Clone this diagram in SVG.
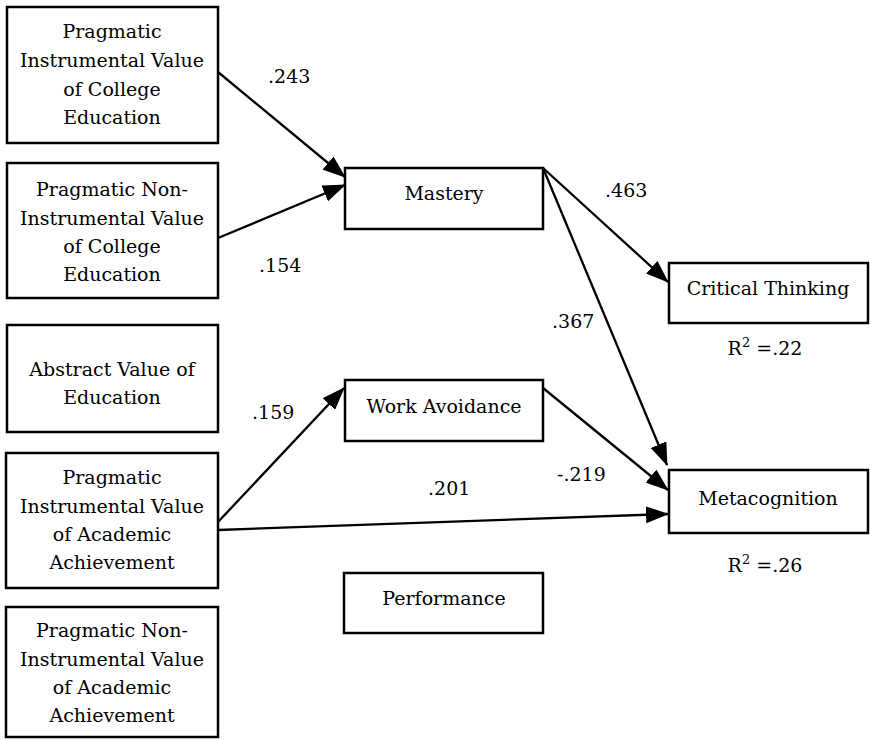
<svg xmlns="http://www.w3.org/2000/svg" width="870" height="740" viewBox="0 0 870 740">
<style>
.box{fill:#fff;stroke:#000;stroke-width:2.5}
.t{font-family:'DejaVu Serif',serif;font-size:19px;fill:#000}
.c{text-anchor:middle}
.edge{stroke:#000;stroke-width:2.3;fill:none;marker-end:url(#ah)}
</style>
<defs>
<marker id="ah" markerUnits="userSpaceOnUse" markerWidth="23" markerHeight="17" refX="22" refY="8.5" orient="auto">
<path d="M0,0 L23,8.5 L0,17 Z" fill="#000"/>
</marker>
</defs>
<rect width="870" height="740" fill="#fff"/>
<g class="t">
<g id="connectors">
<line class="edge" x1="218" y1="72" x2="345" y2="177"/>
<line class="edge" x1="218" y1="238" x2="345" y2="185"/>
<line class="edge" x1="543" y1="168" x2="668" y2="282"/>
<line class="edge" x1="543" y1="168" x2="667" y2="465"/>
<line class="edge" x1="543" y1="388" x2="668" y2="490"/>
<line class="edge" x1="218" y1="522" x2="344" y2="388"/>
<line class="edge" x1="218" y1="530" x2="668" y2="514"/>
<text x="268" y="83">.243</text>
<text x="259" y="272">.154</text>
<text x="605" y="197">.463</text>
<text x="552" y="328">.367</text>
<text x="252" y="419">.159</text>
<text x="428" y="495">.201</text>
<text x="557" y="481">-.219</text>
</g>
<g id="n1">
<rect class="box" x="7" y="7" width="211" height="136"/>
<text class="c" x="112" y="38">Pragmatic</text>
<text class="c" x="112" y="67">Instrumental Value</text>
<text class="c" x="112" y="96">of College</text>
<text class="c" x="112" y="124">Education</text>
</g>
<g id="n2">
<rect class="box" x="7" y="163" width="211" height="135"/>
<text class="c" x="112" y="196">Pragmatic Non-</text>
<text class="c" x="112" y="225">Instrumental Value</text>
<text class="c" x="112" y="253">of College</text>
<text class="c" x="112" y="281">Education</text>
</g>
<g id="n3">
<rect class="box" x="7" y="325" width="211" height="107"/>
<text class="c" x="112" y="376">Abstract Value of</text>
<text class="c" x="112" y="404">Education</text>
</g>
<g id="n4">
<rect class="box" x="6" y="453" width="212" height="135"/>
<text class="c" x="112" y="484">Pragmatic</text>
<text class="c" x="112" y="513">Instrumental Value</text>
<text class="c" x="112" y="541">of Academic</text>
<text class="c" x="112" y="569">Achievement</text>
</g>
<g id="n5">
<rect class="box" x="6" y="607" width="212" height="130"/>
<text class="c" x="112" y="637">Pragmatic Non-</text>
<text class="c" x="112" y="666">Instrumental Value</text>
<text class="c" x="112" y="694">of Academic</text>
<text class="c" x="112" y="722">Achievement</text>
</g>
<g id="mastery">
<rect class="box" x="345" y="168" width="198" height="61"/>
<text class="c" x="444" y="200">Mastery</text>
</g>
<g id="workavoidance">
<rect class="box" x="345" y="380" width="198" height="61"/>
<text class="c" x="444" y="413">Work Avoidance</text>
</g>
<g id="performance">
<rect class="box" x="344" y="573" width="199" height="60"/>
<text class="c" x="444" y="605">Performance</text>
</g>
<g id="critical">
<rect class="box" x="669" y="263" width="199" height="60"/>
<text class="c" x="768" y="295">Critical Thinking</text>
<text class="c" x="765" y="355">R<tspan font-size="13" dy="-8">2</tspan><tspan dy="8"> =.22</tspan></text>
</g>
<g id="metacognition">
<rect class="box" x="669" y="470" width="199" height="63"/>
<text class="c" x="768" y="505">Metacognition</text>
<text class="c" x="765" y="572">R<tspan font-size="13" dy="-8">2</tspan><tspan dy="8"> =.26</tspan></text>
</g>
</g>
</svg>
